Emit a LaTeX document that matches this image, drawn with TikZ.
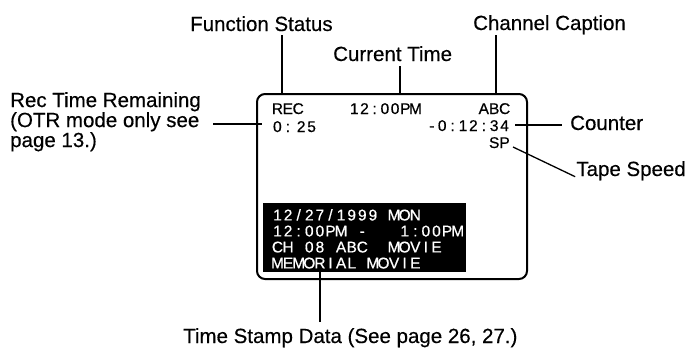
\documentclass[tikz,border=0pt]{standalone}
\usepackage{fontspec}
\setmainfont{Liberation Sans}
\ExplSyntaxOn
% '|' stands for one blank character cell
\NewDocumentCommand\gridtext{O{10.4pt}m}{
  \hbox:n { \str_map_inline:nn {#2}
    { \str_if_eq:nnTF {##1} {|} { \makebox[#1]{} } { \makebox[#1][c]{##1} } } }
}
\ExplSyntaxOff
\tikzset{
  lbl/.style={inner sep=0pt, font=\fontsize{20.5}{20}\selectfont\addfontfeature{FakeBold=0.4}},
  scrtxt/.style={inner sep=0pt, font=\fontsize{15.5}{16}\selectfont\addfontfeature{FakeBold=0.6}},
  leader/.style={line width=1.3pt},
  screenbox/.style={draw, line width=2pt, rounded corners=8pt, inner sep=0pt},
}
\begin{document}
\begin{tikzpicture}[x=1pt,y=-1pt]
\useasboundingbox (0,0) rectangle (687,348);
% screen
\node[screenbox, minimum width=270pt, minimum height=185pt] (scr) at (392,186.5) {};
\node[fill=black, inner sep=0pt, minimum width=203pt, minimum height=69pt] (blk) at (364.5,237.5) {};
% labels
\node[lbl, anchor=base west] (fs) at (190,31) {Function Status};
\node[lbl, anchor=base west] (ct) at (333,61) {Current Time};
\node[lbl, anchor=base west] (cc) at (473,30) {Channel Caption};
\node[lbl, anchor=north west, align=left] (rt) at (10,92) {Rec Time Remaining\\(OTR mode only see\\page 13.)};
\node[lbl, anchor=base west] (cn) at (570,130) {Counter};
\node[lbl, anchor=base east] (tsp) at (686,176) {Tape Speed};
\node[lbl, anchor=base west] (tsd) at (183,343) {Time Stamp Data (See page 26, 27.)};
% screen texts
\node[scrtxt, anchor=base west] (rec) at (272,114) {\gridtext{REC}};
\node[scrtxt, anchor=base west] (rem) at (272,132) {\gridtext{0:}\kern3pt\gridtext{25}};
\node[scrtxt, anchor=base west] (now) at (349,114) {\gridtext[10.2pt]{12:00PM}};
\node[scrtxt, anchor=base east] (abc) at (510,114) {\gridtext{ABC}};
\node[scrtxt, anchor=base east] (ctr) at (510,131) {\gridtext{-0:12:34}};
\node[scrtxt, anchor=base east] (sp) at (510,148) {\gridtext{SP}};
\node[scrtxt, anchor=north west, align=left, text=white] (stamp) at (272,209)
  {\gridtext[10.6pt]{12/27/1999|MON}\\\gridtext[10.6pt]{12:00PM|-|||1:00PM}\\\gridtext[10.6pt]{CH|08|ABC||MOVIE}\\\gridtext[10.6pt]{MEMORIAL|MOVIE}};
% leader end points
\coordinate (fsA) at (282,35);
\coordinate (ctA) at (400,66);
\coordinate (ccA) at (496,35);
\coordinate (rtA) at (213,124);
\coordinate (rtB) at (262,124);
\coordinate (cnA) at (515,125);
\coordinate (cnB) at (562,125);
\coordinate (tsA) at (513,147);
\coordinate (tsB) at ([xshift=-1pt,yshift=-6pt]tsp.west);
\coordinate (tdA) at (320,322);
% leaders
\draw[leader] (fsA) -- (fsA |- scr.north);
\draw[leader] (ctA) -- (ctA |- scr.north);
\draw[leader] (ccA) -- (ccA |- scr.north);
\draw[leader] (rtA) -- (rtB);
\draw[leader] (cnA) -- (cnB);
\draw[leader] (tsA) -- (tsB);
\draw[leader] (tdA) -- (tdA |- blk.south);
\end{tikzpicture}
\end{document}
